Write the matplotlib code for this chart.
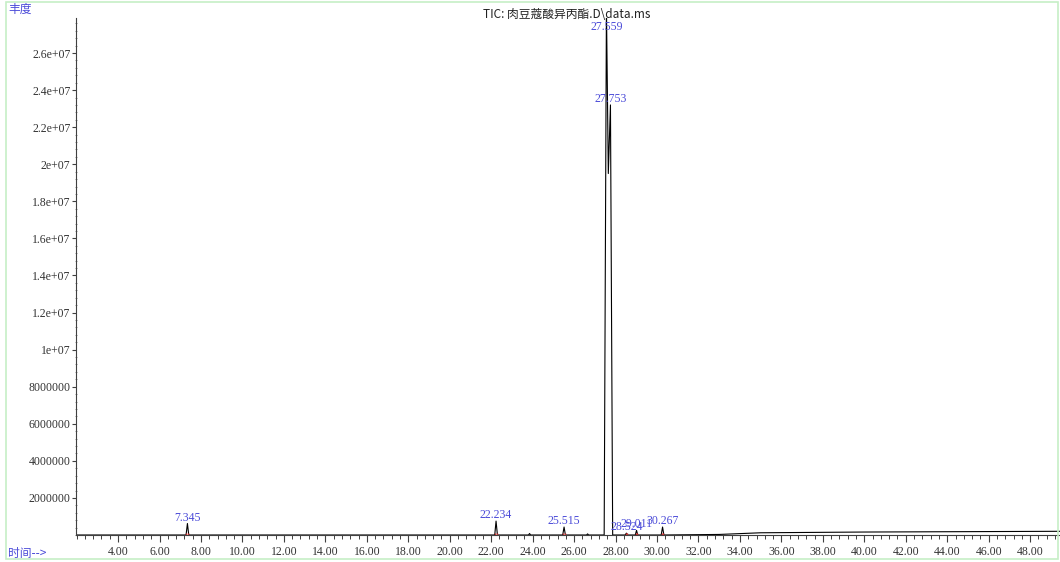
import matplotlib.pyplot as plt
from matplotlib.ticker import MultipleLocator, FixedLocator
from matplotlib.patches import Rectangle

# 色谱图数据 (保留时间, 丰度) - 从图中读取
rt = [2.0, 7.28, 7.345, 7.41, 22.17, 22.234, 22.30, 23.80, 23.85, 23.90,
      25.45, 25.515, 25.58, 26.60, 26.65, 26.70, 27.45, 27.559, 27.65,
      27.753, 27.86, 28.46, 28.524, 28.59, 28.95, 29.011, 29.07,
      30.20, 30.267, 30.33, 33.0, 35.0, 40.0, 49.5]
abund = [0, 0, 6.2e5, 0, 0, 7.5e5, 0, 0, 8e4, 0,
         0, 4.3e5, 0, 0, 6e4, 0, 0, 2.85e7, 1.95e7,
         2.32e7, 0, 0, 1.0e5, 0, 0, 2.5e5, 0,
         0, 4.3e5, 0, 3e4, 1.2e5, 1.6e5, 2.0e5]

# 峰标注
peak_rt = [7.345, 22.234, 25.515, 27.559, 27.753, 28.524, 29.011, 30.267]
peak_h = [6.2e5, 7.5e5, 4.3e5, 2.85e7, 2.32e7, 1.0e5, 2.5e5, 4.3e5]
peak_lbl = ['7.345', '22.234', '25.515', '27.559', '27.753', '28.524', '29.011', '30.267']

# 积分起止点
base_marks = [7.30, 7.39, 22.19, 22.28, 25.47, 25.56, 28.48, 28.57, 28.97, 29.05, 30.22, 30.31]

y_ticks = [2e6, 4e6, 6e6, 8e6, 1e7, 1.2e7, 1.4e7, 1.6e7, 1.8e7, 2e7, 2.2e7, 2.4e7, 2.6e7]
y_tick_lbl = ['2000000', '4000000', '6000000', '8000000', '1e+07', '1.2e+07', '1.4e+07',
              '1.6e+07', '1.8e+07', '2e+07', '2.2e+07', '2.4e+07', '2.6e+07']
x_ticks = list(range(4, 50, 2))

cjk = ['Noto Sans CJK SC', 'DejaVu Sans']
num_font = 'Liberation Serif'
blue = '#4a4ad8'

fig = plt.figure(figsize=(10.6, 5.62), dpi=100)
fig.patches.append(Rectangle((0.006, 0.006), 0.992, 0.99, transform=fig.transFigure,
                             fill=False, edgecolor='#c6efc6', linewidth=1.2))

ax = fig.add_axes([76 / 1060, 27 / 562, 984 / 1060, 517 / 562])
ylim_top = 2.789e7
ax.set_xlim(1.97, 49.44)
ax.set_ylim(0, ylim_top)

ax.plot(rt, abund, color='black', linewidth=0.8)
ax.vlines(base_marks, 0, 1.2e5, color='#d03030', linewidth=1.0)

for x, h, s in zip(peak_rt, peak_h, peak_lbl):
    if h > ylim_top * 0.95:
        ax.text(x, ylim_top * 0.995, s, ha='center', va='top', color=blue,
                fontsize=8.5, family=num_font)
    else:
        ax.annotate(s, (x, h), xytext=(0, 0), textcoords='offset points',
                    ha='center', va='bottom', color=blue, fontsize=8.5, family=num_font)

for side in ['top', 'right']:
    ax.spines[side].set_visible(False)
ax.spines['left'].set_color('#404040')
ax.spines['bottom'].set_color('#404040')

ax.xaxis.set_major_locator(FixedLocator(x_ticks))
ax.set_xticklabels(['%.2f' % t for t in x_ticks], family=num_font, fontsize=8.5)
ax.xaxis.set_minor_locator(MultipleLocator(0.4))
ax.tick_params(axis='x', which='major', direction='out', length=5, width=0.8, pad=3, colors='#404040')
ax.tick_params(axis='x', which='minor', direction='out', length=3, width=0.7, colors='#404040')
ax.tick_params(axis='x', labelcolor='#333333')

ax.yaxis.set_major_locator(FixedLocator(y_ticks))
ax.set_yticklabels(y_tick_lbl, family=num_font, fontsize=8.5)
ax.yaxis.set_minor_locator(MultipleLocator(4e5))
ax.tick_params(axis='y', which='major', direction='out', length=3, width=0.8, pad=1, colors='#404040')
ax.tick_params(axis='y', which='minor', direction='inout', length=2, width=0.6, colors='#808080')
ax.tick_params(axis='y', labelcolor='#333333')

fig.text(567 / 1060, 1 - 14 / 562, 'TIC: 肉豆蔻酸异丙酯.D\\data.ms', ha='center', va='center',
         fontsize=8.5, family=cjk, color='#222222')
fig.text(8 / 1060, 1 - 9 / 562, '丰度', ha='left', va='center', fontsize=8.5, family=cjk, color=blue)
fig.text(8 / 1060, 1 - 553 / 562, '时间-->', ha='left', va='center', fontsize=8.5, family=cjk, color=blue)

fig.savefig('out.png', dpi=100)
